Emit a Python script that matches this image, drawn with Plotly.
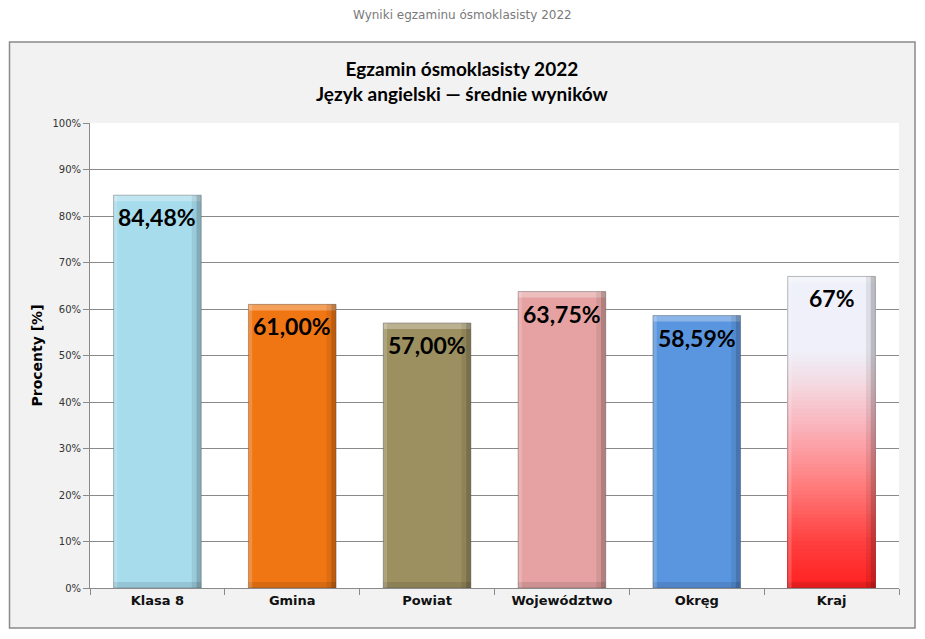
import plotly.graph_objects as go

# ---- data ----
categories = ["Klasa 8", "Gmina", "Powiat", "Województwo", "Okręg", "Kraj"]
values = [84.48, 61.00, 57.00, 63.75, 58.59, 67.0]
labels = ["84,48%", "61,00%", "57,00%", "63,75%", "58,59%", "67%"]
bar_colors = ["#a6dcec", "#f07614", "#9c9060", "#e6a2a2", "#5a96e0", None]
y_ticks = [0, 10, 20, 30, 40, 50, 60, 70, 80, 90, 100]
y_tick_text = [f"{t}%" for t in y_ticks]

page_title = "Wyniki egzaminu ósmoklasisty 2022"
chart_title = "Egzamin ósmoklasisty 2022<br>Język angielski — średnie wyników"
y_title = "Procenty [%]"

# ---- geometry / style ----
W, H = 925, 639
ML, MR, MT, MB = 90, 26, 123, 51
PW, PH = W - ML - MR, H - MT - MB
BAR_W = 0.65
OFF = -BAR_W / 2
EDGE_W = 0.035
CAP_H = 1.3


def px(xp):
    return (xp - ML) / PW


def py(yp):
    return (H - MB - yp) / PH


def hex_to_rgb(h):
    h = h.lstrip("#")
    return tuple(int(h[i:i + 2], 16) for i in (0, 2, 4))


def interp_color(stops, v):
    stops = sorted(stops)
    for (v0, c0), (v1, c1) in zip(stops[:-1], stops[1:]):
        if v0 <= v <= v1:
            t = (v - v0) / (v1 - v0) if v1 != v0 else 0
            a, b = hex_to_rgb(c0), hex_to_rgb(c1)
            return "rgb(%d,%d,%d)" % tuple(round(a[i] + (b[i] - a[i]) * t) for i in range(3))
    return stops[-1][1]


fig = go.Figure()

# solid bars (all but the gradient one)
solid_idx = [i for i, c in enumerate(bar_colors) if c is not None]
fig.add_trace(go.Bar(
    x=[categories[i] for i in solid_idx],
    y=[values[i] for i in solid_idx],
    marker=dict(color=[bar_colors[i] for i in solid_idx], line=dict(width=0)),
    width=BAR_W, offset=OFF, hoverinfo="skip", showlegend=False,
))

# gradient bar (Kraj): white at top -> red at bottom, drawn as nested bars
grad_stops = [(0, "#ff2020"), (10, "#ff4040"), (22, "#ff7c7c"), (34, "#fab0b8"),
              (44, "#f4dae2"), (51, "#eff0f9"), (100, "#edf2fd")]
for i, c in enumerate(bar_colors):
    if c is None:
        n = 80
        tops = [values[i] * (n - k) / n for k in range(n)]  # tallest first
        for t in tops:
            fig.add_trace(go.Bar(
                x=[categories[i]], y=[t],
                marker=dict(color=interp_color(grad_stops, t - values[i] / n / 2),
                            line=dict(width=0)),
                width=BAR_W, offset=OFF, hoverinfo="skip", showlegend=False,
            ))

# bevel effect overlays
cap = [CAP_H] * len(values)
fig.add_trace(go.Bar(  # top cap (light)
    x=categories, y=cap, base=[v - CAP_H for v in values],
    marker=dict(color="rgba(255,255,255,0.30)", line=dict(width=0)),
    width=BAR_W, offset=OFF, hoverinfo="skip", showlegend=False))
fig.add_trace(go.Bar(  # bottom cap (dark)
    x=categories, y=cap, base=[0] * len(values),
    marker=dict(color="rgba(0,0,0,0.10)", line=dict(width=0)),
    width=BAR_W, offset=OFF, hoverinfo="skip", showlegend=False))
fig.add_trace(go.Bar(  # left edge (light)
    x=categories, y=values,
    marker=dict(color="rgba(255,255,255,0.18)", line=dict(width=0)),
    width=EDGE_W * 0.8, offset=OFF, hoverinfo="skip", showlegend=False))
fig.add_trace(go.Bar(  # right edge (dark)
    x=categories, y=values,
    marker=dict(color="rgba(0,0,0,0.22)", line=dict(width=0)),
    width=EDGE_W, offset=-OFF - EDGE_W, hoverinfo="skip", showlegend=False))
fig.add_trace(go.Bar(  # right edge inner shade
    x=categories, y=values,
    marker=dict(color="rgba(0,0,0,0.08)", line=dict(width=0)),
    width=EDGE_W, offset=-OFF - 2 * EDGE_W, hoverinfo="skip", showlegend=False))
fig.add_trace(go.Bar(  # outline
    x=categories, y=values,
    marker=dict(color="rgba(0,0,0,0)", line=dict(width=1, color="rgba(60,60,60,0.35)")),
    width=BAR_W, offset=OFF, hoverinfo="skip", showlegend=False))

annotations = []
for c, v, lab in zip(categories, values, labels):
    annotations.append(dict(
        x=c, y=v, xref="x", yref="y", text=f"<b>{lab}</b>", showarrow=False,
        yanchor="top", yshift=-6,
        font=dict(family="Lato", size=23, color="#000000"),
    ))

annotations.append(dict(
    x=px(462), y=py(15), xref="paper", yref="paper", text=page_title,
    showarrow=False, xanchor="center", yanchor="middle",
    font=dict(family="DejaVu Sans", size=12, color="#7a7a7a"),
))
annotations.append(dict(
    x=px(462), y=py(80.5), xref="paper", yref="paper", text=f"<b>{chart_title}</b>",
    showarrow=False, xanchor="center", yanchor="middle",
    font=dict(family="Lato", size=19, color="#000000"),
))

shapes = [
    dict(type="rect", xref="paper", yref="paper",
         x0=px(9.5), x1=px(915), y0=py(628), y1=py(42),
         fillcolor="#f2f2f2", line=dict(color="#8a8a8a", width=1.5), layer="below"),
    dict(type="rect", xref="x domain", yref="y domain", x0=0, x1=1, y0=0, y1=1,
         fillcolor="#ffffff", line=dict(width=0), layer="below"),
]

fig.update_layout(
    width=W, height=H,
    margin=dict(l=ML, r=MR, t=MT, b=MB),
    paper_bgcolor="#ffffff",
    plot_bgcolor="rgba(0,0,0,0)",
    barmode="overlay",
    showlegend=False,
    annotations=annotations,
    shapes=shapes,
    xaxis=dict(
        type="category", categoryorder="array", categoryarray=categories,
        range=[-0.5, len(categories) - 0.5],
        tickson="boundaries", ticks="outside", ticklen=6, tickcolor="#8a8a8a",
        showline=True, linecolor="#8a8a8a", linewidth=1,
        showgrid=False, zeroline=False,
        tickfont=dict(family="DejaVu Sans", size=13, color="#111111"),
        tickprefix="<b>", ticksuffix="</b>",
        fixedrange=True,
    ),
    yaxis=dict(
        range=[0, 100], tickvals=y_ticks, ticktext=y_tick_text,
        ticks="outside", ticklen=6, tickcolor="#8a8a8a",
        showline=True, linecolor="#8a8a8a", linewidth=1,
        showgrid=True, gridcolor="#8a8a8a", gridwidth=1,
        zeroline=False,
        tickfont=dict(family="DejaVu Sans", size=10, color="#333333"),
        title=dict(text=f"<b>{y_title}</b>", standoff=6,
                   font=dict(family="DejaVu Sans", size=14, color="#000000")),
        fixedrange=True,
    ),
)

fig.write_html("out.html")
